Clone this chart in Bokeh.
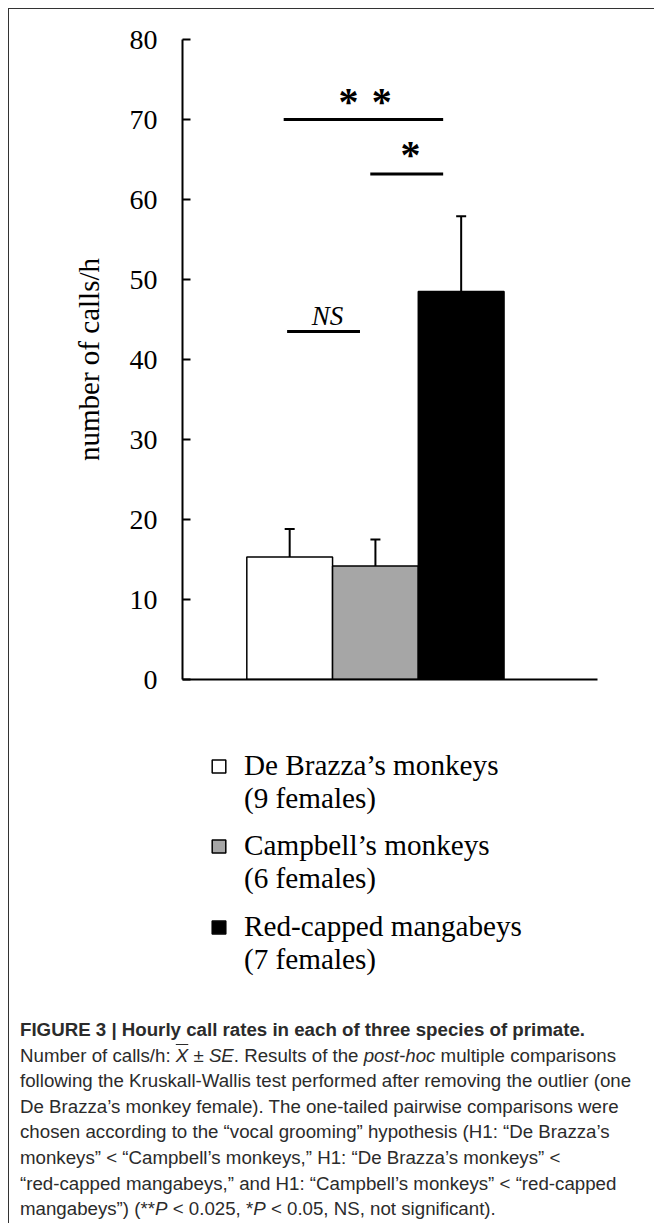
from bokeh.plotting import figure
from bokeh.models import (ColumnDataSource, Range1d, FixedTicker, Whisker, TeeHead,
                          Legend, LegendItem, Div)
from bokeh.layouts import column
from bokeh.core.properties import value
from bokeh.embed import file_html
from bokeh.resources import INLINE

# ---------------- data ----------------
species = ["De Brazza\u2019s monkeys", "Campbell\u2019s monkeys", "Red-capped mangabeys"]
females = ["(9 females)", "(6 females)", "(7 females)"]
group_x = [1, 2, 3]
mean_calls = [15.3, 14.2, 48.5]          # number of calls/h (mean)
se_calls = [3.5, 3.3, 9.4]               # standard error
y_ticks = [0, 10, 20, 30, 40, 50, 60, 70, 80]

# pairwise comparisons: bracket start/end (group axis) and height
sig_start = [0.93, 1.94, 0.97]
sig_end = [2.79, 2.79, 1.82]
sig_height = [70.0, 63.2, 43.5]
star_text = ["*\u2004*", "*"]
star_x = [1.88, 2.41]
star_y = [72.3, 65.6]
ns_text = ["NS"]
ns_x = [1.44]
ns_y = [45.5]

caption_title = "FIGURE 3 | Hourly call rates in each of three species of primate."
caption_body = [
    'Number of calls/h: <i><span style="text-decoration:overline">X</span></i> \u00b1 <i>SE</i>. Results of the <i>post-hoc</i> multiple comparisons',
    "following the Kruskall-Wallis test performed after removing the outlier (one",
    "De Brazza\u2019s monkey female). The one-tailed pairwise comparisons were",
    "chosen according to the \u201cvocal grooming\u201d hypothesis (H1: \u201cDe Brazza\u2019s",
    "monkeys\u201d &lt; \u201cCampbell\u2019s monkeys,\u201d H1: \u201cDe Brazza\u2019s monkeys\u201d &lt;",
    "\u201cred-capped mangabeys,\u201d and H1: \u201cCampbell\u2019s monkeys\u201d &lt; \u201cred-capped",
    "mangabeys\u201d) (**<i>P</i> &lt; 0.025, *<i>P</i> &lt; 0.05, NS, not significant).",
]

# ---------------- styles ----------------
bar_colors = ["#ffffff", "#a6a6a6", "#000000"]
SERIF = "Liberation Serif"
INK = "#000000"

p = figure(width=637, height=691, output_backend="svg", toolbar_location=None,
           x_range=Range1d(-0.25, 4.59), y_range=Range1d(0, 80),
           min_border_left=173, min_border_right=49, min_border_top=30,
           min_border_bottom=21)
p.grid.visible = False
p.outline_line_color = None
p.background_fill_color = "white"
p.border_fill_color = "white"

src = ColumnDataSource(dict(x=group_x, top=mean_calls, color=bar_colors))
bars = p.vbar(x="x", top="top", bottom=0, width=1.0, fill_color="color",
              line_color=INK, line_width=1.5, source=src)

err_src = ColumnDataSource(dict(x=group_x, lower=mean_calls,
                                upper=[m + s for m, s in zip(mean_calls, se_calls)]))
whisk = Whisker(base="x", lower="lower", upper="upper", source=err_src,
                dimension="height", line_color=INK, line_width=2,
                upper_head=TeeHead(size=10, line_color=INK, line_width=2),
                lower_head=None, level="glyph")
p.add_layout(whisk)

p.segment(x0=sig_start, x1=sig_end, y0=sig_height, y1=sig_height,
          line_color=INK, line_width=3, line_cap="butt")
p.text(x=star_x, y=star_y, text=star_text, text_font=value(SERIF),
       text_font_size="40px", text_font_style="bold", text_color=INK,
       text_align="center", text_baseline="middle")
p.text(x=ns_x, y=ns_y, text=ns_text, text_font=value(SERIF),
       text_font_size="27px", text_font_style="italic", text_color=INK,
       text_align="center", text_baseline="middle")

# axes
p.yaxis.ticker = FixedTicker(ticks=y_ticks)
p.yaxis.axis_label = "number of calls/h"
p.yaxis.axis_label_text_font = SERIF
p.yaxis.axis_label_text_font_size = "29px"
p.yaxis.axis_label_text_font_style = "normal"
p.yaxis.axis_label_text_color = INK
p.yaxis.axis_label_standoff = 22
p.yaxis.major_label_text_font = SERIF
p.yaxis.major_label_text_font_size = "28px"
p.yaxis.major_label_text_color = INK
p.yaxis.major_label_standoff = 25
p.yaxis.major_tick_in = 8
p.yaxis.major_tick_out = 0
p.yaxis.minor_tick_line_color = None
p.yaxis.major_tick_line_width = 2
p.yaxis.major_tick_line_color = INK
p.yaxis.axis_line_width = 2
p.yaxis.axis_line_color = INK

p.xaxis.ticker = FixedTicker(ticks=[])
p.xaxis.minor_tick_line_color = None
p.xaxis.major_tick_line_color = None
p.xaxis.axis_line_width = 2
p.xaxis.axis_line_color = INK

# ---------------- legend panel ----------------
# The swatch renderer shares the bar data; it is muted (fully transparent in
# the panel) so only its legend swatches show.
lp = figure(width=637, height=312, output_backend="svg", toolbar_location=None,
            x_range=Range1d(10, 11), y_range=Range1d(100, 101),
            x_axis_type=None, y_axis_type=None, min_border=0)
lp.grid.visible = False
lp.outline_line_color = None
lp.border_fill_color = "white"
swatch = lp.vbar(x="x", top="top", bottom=0, width=1.0, fill_color="color",
                 line_color=INK, line_width=1.5, source=src, muted_alpha=0)
swatch.muted = True
blank = lp.scatter(x=[], y=[], fill_alpha=0, line_alpha=0)
legend_bottoms = [196.8, 116.8, 35.8]
for i in range(3):
    lg = Legend(items=[LegendItem(label=value(species[i]), renderers=[swatch], index=i),
                       LegendItem(label=value(females[i]), renderers=[blank])],
                location=(28, legend_bottoms[i]),
                label_text_font=SERIF, label_text_font_size="29.2px",
                label_text_color=INK, glyph_width=17, glyph_height=16,
                label_standoff=17, label_height=31, spacing=0, padding=0,
                margin=0, border_line_color=None, background_fill_alpha=0)
    lp.add_layout(lg)

html = ('<div style="font-family:\'Liberation Sans\',Arial,sans-serif;font-size:18.7px;'
        'line-height:25.6px;color:#2b2b2b;white-space:nowrap;margin:0;padding-left:6px;">'
        '<b>' + caption_title + '</b><br>' + '<br>'.join(caption_body) + '</div>')
cap = Div(text=html, width=637, height=205, styles={"overflow": "visible"})

layout = column(p, lp, cap, margin=(8, 0, 0, 8),
                styles={"border-left": "1px solid #333", "border-top": "1px solid #333"})

open("out.html", "w").write(file_html(layout, INLINE))
